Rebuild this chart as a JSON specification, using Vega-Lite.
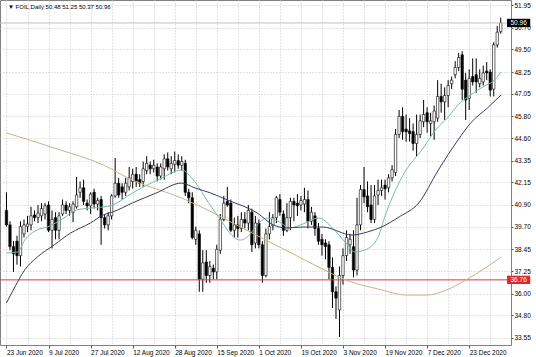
{
"$schema": "https://vega.github.io/schema/vega-lite/v6.json",
"width": 511, "height": 345,
"autosize": {"type": "none"},
"padding": {"left": 0, "top": 0, "right": 25, "bottom": 12},
"background": "#ffffff",
"config": {"view": {"stroke": "#808080", "strokeWidth": 1}, "font": "Liberation Sans"},
"resolve": {"axis": {"x": "independent", "y": "independent"}},
"datasets": {
"candles": [
{"i":0,"o":40.6,"h":41.6,"l":39.7,"c":39.8},
{"i":1,"o":39.8,"h":40.0,"l":38.4,"c":38.6},
{"i":2,"o":38.6,"h":38.9,"l":37.2,"c":38.2},
{"i":3,"o":38.9,"h":39.2,"l":37.6,"c":38.1},
{"i":4,"o":38.1,"h":40.0,"l":37.5,"c":39.7},
{"i":5,"o":39.3,"h":40.1,"l":39.1,"c":39.8},
{"i":6,"o":39.7,"h":40.3,"l":39.4,"c":39.85},
{"i":7,"o":39.8,"h":40.8,"l":39.5,"c":40.3},
{"i":8,"o":40.35,"h":40.6,"l":40.0,"c":40.2},
{"i":9,"o":40.2,"h":40.9,"l":39.9,"c":40.45},
{"i":10,"o":40.3,"h":41.0,"l":40.0,"c":40.7},
{"i":11,"o":40.4,"h":41.0,"l":40.1,"c":40.85},
{"i":12,"o":40.9,"h":41.1,"l":39.4,"c":39.5},
{"i":13,"o":39.5,"h":40.6,"l":38.5,"c":40.1},
{"i":14,"o":40.2,"h":40.5,"l":39.0,"c":39.5},
{"i":15,"o":39.5,"h":40.5,"l":39.0,"c":40.3},
{"i":16,"o":40.4,"h":41.2,"l":40.3,"c":40.9},
{"i":17,"o":40.9,"h":41.1,"l":40.4,"c":40.6},
{"i":18,"o":40.6,"h":41.0,"l":40.3,"c":40.8},
{"i":19,"o":40.5,"h":41.1,"l":39.95,"c":40.95},
{"i":20,"o":40.8,"h":42.45,"l":40.7,"c":41.45},
{"i":21,"o":41.6,"h":42.2,"l":41.3,"c":41.85},
{"i":22,"o":41.85,"h":42.3,"l":40.9,"c":41.1},
{"i":23,"o":41.0,"h":41.2,"l":40.6,"c":40.85},
{"i":24,"o":40.85,"h":41.6,"l":40.4,"c":41.5},
{"i":25,"o":41.6,"h":41.8,"l":40.7,"c":40.95},
{"i":26,"o":40.95,"h":41.3,"l":40.6,"c":41.15},
{"i":27,"o":41.2,"h":41.4,"l":38.7,"c":40.2},
{"i":28,"o":40.2,"h":40.4,"l":39.6,"c":39.8},
{"i":29,"o":39.8,"h":40.5,"l":39.5,"c":40.3},
{"i":30,"o":40.3,"h":41.5,"l":40.1,"c":41.4},
{"i":31,"o":41.4,"h":43.5,"l":41.3,"c":42.1},
{"i":32,"o":42.1,"h":42.4,"l":41.3,"c":41.45},
{"i":33,"o":41.9,"h":42.1,"l":41.2,"c":41.6},
{"i":34,"o":41.6,"h":42.4,"l":41.4,"c":42.1},
{"i":35,"o":41.9,"h":43.0,"l":41.7,"c":42.4},
{"i":36,"o":42.2,"h":42.9,"l":41.8,"c":42.6},
{"i":37,"o":42.6,"h":43.0,"l":41.9,"c":42.2},
{"i":38,"o":42.3,"h":42.6,"l":41.9,"c":42.1},
{"i":39,"o":42.2,"h":43.3,"l":41.9,"c":42.9},
{"i":40,"o":42.8,"h":43.6,"l":42.6,"c":43.2},
{"i":41,"o":43.1,"h":43.3,"l":42.6,"c":42.9},
{"i":42,"o":42.9,"h":43.4,"l":42.7,"c":43.1},
{"i":43,"o":43.0,"h":43.2,"l":42.2,"c":42.5},
{"i":44,"o":42.5,"h":43.2,"l":42.3,"c":43.0},
{"i":45,"o":42.9,"h":43.7,"l":42.3,"c":43.45},
{"i":46,"o":43.45,"h":43.8,"l":42.8,"c":43.0},
{"i":47,"o":42.9,"h":43.6,"l":42.6,"c":43.2},
{"i":48,"o":43.15,"h":43.85,"l":42.7,"c":43.35},
{"i":49,"o":43.35,"h":43.7,"l":42.9,"c":43.1},
{"i":50,"o":43.1,"h":43.6,"l":42.8,"c":43.3},
{"i":51,"o":43.2,"h":43.4,"l":41.4,"c":41.6},
{"i":52,"o":41.6,"h":41.8,"l":41.0,"c":41.3},
{"i":53,"o":41.3,"h":41.6,"l":39.0,"c":39.1},
{"i":54,"o":39.0,"h":39.7,"l":38.7,"c":39.5},
{"i":55,"o":39.3,"h":39.5,"l":36.1,"c":36.8},
{"i":56,"o":36.8,"h":38.4,"l":36.1,"c":37.7},
{"i":57,"o":37.75,"h":38.4,"l":36.6,"c":37.0},
{"i":58,"o":37.0,"h":37.8,"l":36.6,"c":37.5},
{"i":59,"o":37.4,"h":37.6,"l":36.8,"c":37.2},
{"i":60,"o":37.2,"h":38.7,"l":36.8,"c":38.45},
{"i":61,"o":38.4,"h":40.4,"l":38.2,"c":40.1},
{"i":62,"o":40.1,"h":41.4,"l":40.0,"c":41.0},
{"i":63,"o":41.1,"h":41.9,"l":40.8,"c":40.9},
{"i":64,"o":41.0,"h":41.2,"l":39.4,"c":39.5},
{"i":65,"o":39.5,"h":40.2,"l":39.1,"c":39.8},
{"i":66,"o":39.8,"h":40.3,"l":39.1,"c":39.6},
{"i":67,"o":39.6,"h":40.5,"l":39.4,"c":40.1},
{"i":68,"o":40.1,"h":40.5,"l":39.6,"c":39.9},
{"i":69,"o":39.9,"h":40.9,"l":39.5,"c":40.6},
{"i":70,"o":40.5,"h":40.7,"l":38.3,"c":38.7},
{"i":71,"o":38.8,"h":40.3,"l":38.5,"c":39.9},
{"i":72,"o":39.9,"h":40.1,"l":38.5,"c":38.7},
{"i":73,"o":38.7,"h":38.9,"l":36.6,"c":37.0},
{"i":74,"o":37.0,"h":39.6,"l":36.9,"c":39.3},
{"i":75,"o":39.3,"h":40.5,"l":39.0,"c":39.7},
{"i":76,"o":39.75,"h":40.4,"l":39.5,"c":40.2},
{"i":77,"o":40.2,"h":41.4,"l":39.9,"c":41.3},
{"i":78,"o":41.2,"h":41.5,"l":40.3,"c":40.5},
{"i":79,"o":40.4,"h":40.6,"l":39.2,"c":39.5},
{"i":80,"o":39.5,"h":41.0,"l":39.4,"c":40.2},
{"i":81,"o":40.2,"h":41.3,"l":39.5,"c":41.1},
{"i":82,"o":41.1,"h":41.3,"l":40.0,"c":40.9},
{"i":83,"o":41.0,"h":41.5,"l":40.3,"c":40.85},
{"i":84,"o":40.9,"h":41.4,"l":40.6,"c":41.15},
{"i":85,"o":40.95,"h":41.85,"l":40.5,"c":41.2},
{"i":86,"o":41.2,"h":41.7,"l":39.6,"c":40.0},
{"i":87,"o":40.0,"h":40.8,"l":39.8,"c":40.5},
{"i":88,"o":40.3,"h":40.5,"l":39.2,"c":39.6},
{"i":89,"o":39.6,"h":39.9,"l":38.7,"c":38.9},
{"i":90,"o":39.0,"h":39.3,"l":38.1,"c":38.7},
{"i":91,"o":38.8,"h":39.0,"l":37.9,"c":38.6},
{"i":92,"o":38.7,"h":38.9,"l":36.8,"c":37.45},
{"i":93,"o":37.45,"h":38.0,"l":35.2,"c":36.1},
{"i":94,"o":36.1,"h":36.4,"l":34.6,"c":35.75},
{"i":95,"o":35.1,"h":37.5,"l":33.6,"c":37.0},
{"i":96,"o":37.0,"h":38.5,"l":36.5,"c":38.1},
{"i":97,"o":38.1,"h":39.5,"l":37.8,"c":39.1},
{"i":98,"o":38.7,"h":39.3,"l":38.2,"c":39.0},
{"i":99,"o":38.6,"h":39.5,"l":36.9,"c":37.3},
{"i":100,"o":37.3,"h":41.3,"l":37.0,"c":39.8},
{"i":101,"o":39.8,"h":42.0,"l":39.5,"c":41.75},
{"i":102,"o":41.75,"h":43.0,"l":41.0,"c":41.35},
{"i":103,"o":41.4,"h":42.2,"l":40.5,"c":40.8},
{"i":104,"o":40.9,"h":42.0,"l":39.9,"c":40.1},
{"i":105,"o":40.1,"h":42.0,"l":39.9,"c":41.4},
{"i":106,"o":41.45,"h":42.3,"l":40.9,"c":41.7},
{"i":107,"o":41.7,"h":42.3,"l":41.4,"c":41.85},
{"i":108,"o":42.0,"h":42.3,"l":41.2,"c":41.8},
{"i":109,"o":41.85,"h":42.6,"l":41.6,"c":42.4},
{"i":110,"o":42.4,"h":43.1,"l":42.2,"c":42.85},
{"i":111,"o":42.7,"h":45.1,"l":42.5,"c":44.8},
{"i":112,"o":44.8,"h":46.15,"l":44.6,"c":45.8},
{"i":113,"o":45.8,"h":46.3,"l":44.5,"c":44.95},
{"i":114,"o":45.1,"h":45.9,"l":44.4,"c":44.95},
{"i":115,"o":45.0,"h":45.7,"l":44.4,"c":44.85},
{"i":116,"o":44.95,"h":45.4,"l":43.9,"c":44.3},
{"i":117,"o":44.3,"h":45.9,"l":43.6,"c":44.8},
{"i":118,"o":44.8,"h":45.9,"l":44.6,"c":45.55},
{"i":119,"o":45.5,"h":46.7,"l":45.2,"c":45.9},
{"i":120,"o":46.0,"h":46.3,"l":44.9,"c":45.5},
{"i":121,"o":45.4,"h":46.0,"l":44.7,"c":45.55},
{"i":122,"o":45.5,"h":46.4,"l":44.5,"c":46.1},
{"i":123,"o":45.7,"h":47.8,"l":45.5,"c":46.9},
{"i":124,"o":46.9,"h":47.6,"l":46.0,"c":46.6},
{"i":125,"o":46.6,"h":47.4,"l":45.6,"c":46.95},
{"i":126,"o":46.95,"h":47.8,"l":46.3,"c":47.5},
{"i":127,"o":47.6,"h":48.0,"l":47.3,"c":47.8},
{"i":128,"o":48.1,"h":48.85,"l":47.9,"c":48.5},
{"i":129,"o":48.5,"h":49.3,"l":48.3,"c":49.05},
{"i":130,"o":49.2,"h":49.4,"l":46.7,"c":47.3},
{"i":131,"o":47.8,"h":48.2,"l":45.6,"c":46.7},
{"i":132,"o":46.8,"h":48.4,"l":46.15,"c":47.9},
{"i":133,"o":48.0,"h":49.0,"l":47.5,"c":47.7},
{"i":134,"o":48.1,"h":49.0,"l":47.1,"c":47.7},
{"i":135,"o":47.6,"h":48.4,"l":47.4,"c":47.9},
{"i":136,"o":47.7,"h":48.6,"l":47.5,"c":48.2},
{"i":137,"o":48.3,"h":48.8,"l":47.8,"c":48.2},
{"i":138,"o":48.25,"h":48.4,"l":46.9,"c":47.25},
{"i":139,"o":47.3,"h":49.9,"l":46.9,"c":49.75},
{"i":140,"o":49.75,"h":50.8,"l":49.6,"c":50.45},
{"i":141,"o":50.48,"h":51.25,"l":50.37,"c":50.96}
],
"maFast": [
{"i":0,"v":38.25},{"i":3.2,"v":38.3},{"i":5.2,"v":38.96},{"i":8.8,"v":39.52},{"i":11.6,"v":39.68},{"i":15.5,"v":40.07},{"i":20,"v":40.62},{"i":23.9,"v":40.73},{"i":27.6,"v":40.79},{"i":30.3,"v":40.9},{"i":35.9,"v":41.56},{"i":40.1,"v":42.0},{"i":44.3,"v":42.39},{"i":49.9,"v":42.83},{"i":53.8,"v":42.17},{"i":57.5,"v":41.06},{"i":61.1,"v":40.07},{"i":63.9,"v":39.3},{"i":66.7,"v":38.96},{"i":69,"v":39.18},{"i":71.5,"v":39.79},{"i":74.3,"v":40.18},{"i":77.9,"v":39.96},{"i":80.7,"v":39.63},{"i":84.6,"v":39.85},{"i":89.1,"v":40.18},{"i":93,"v":39.63},{"i":96.6,"v":38.85},{"i":99.4,"v":38.3},{"i":102.2,"v":38.41},{"i":105.9,"v":39.07},{"i":107.8,"v":40.18},{"i":110.1,"v":41.34},{"i":114,"v":42.83},{"i":118.5,"v":43.94},{"i":122.4,"v":45.04},{"i":126,"v":45.76},{"i":128.8,"v":46.43},{"i":132.4,"v":46.98},{"i":136.4,"v":47.48},{"i":138.6,"v":47.7},{"i":141.1,"v":48.25}
],
"maMid": [
{"i":0,"v":35.48},{"i":2.4,"v":36.37},{"i":5.2,"v":37.31},{"i":8.8,"v":38.02},{"i":13.6,"v":38.69},{"i":18.3,"v":39.35},{"i":23.9,"v":39.9},{"i":27.6,"v":40.35},{"i":30.3,"v":40.51},{"i":35.9,"v":41.01},{"i":42.7,"v":41.56},{"i":49.9,"v":42.11},{"i":53.8,"v":41.84},{"i":58.3,"v":41.56},{"i":63.1,"v":41.17},{"i":71.5,"v":40.46},{"i":76.2,"v":39.79},{"i":79.9,"v":39.63},{"i":84.6,"v":39.68},{"i":90.2,"v":39.68},{"i":98.6,"v":39.24},{"i":103,"v":39.41},{"i":107,"v":39.68},{"i":112,"v":40.24},{"i":117.6,"v":41.01},{"i":123.2,"v":42.83},{"i":128.8,"v":44.49},{"i":132.4,"v":45.43},{"i":137.2,"v":46.26},{"i":141.1,"v":46.98}
],
"maSlow": [
{"i":0,"v":44.88},{"i":13.6,"v":44.05},{"i":27.6,"v":43.11},{"i":35.9,"v":42.28},{"i":49.9,"v":41.29},{"i":69.5,"v":39.41},{"i":83.5,"v":38.02},{"i":91.9,"v":37.19},{"i":97.5,"v":36.7},{"i":105.9,"v":36.26},{"i":114.3,"v":35.92},{"i":119.9,"v":35.92},{"i":125.5,"v":36.2},{"i":131,"v":36.75},{"i":136.6,"v":37.42},{"i":141.1,"v":38.02}
],
"priceMarks": [
{"p":50.96,"t":"50.96","kind":"bid"},
{"p":36.76,"t":"36.76","kind":"alert"}
],
"header": [
{"t":"▼ FOIL,Daily  50.48 51.25 50.37 50.96"}
]
},
"layer": [
{
"data": {"name": "candles"},
"mark": {"type": "rule", "color": "#000000", "strokeWidth": 1},
"encoding": {
"x": {"field": "i", "type": "quantitative", "scale": {"domain": [-0.42, 142.5], "nice": false, "zero": false},
 "axis": {"orient": "bottom", "values": [0,6,12,18,24,30,36,42,48,54,60,66,72,78,84,90,96,102,108,114,120,126,132,138],
  "labelExpr": "datum.value % 12 == 0 ? ['23 Jun 2020','9 Jul 2020','27 Jul 2020','12 Aug 2020','28 Aug 2020','15 Sep 2020','1 Oct 2020','19 Oct 2020','3 Nov 2020','19 Nov 2020','7 Dec 2020','23 Dec 2020'][datum.value / 12] : ''",
  "labelAlign": "left", "labelFontSize": 6.5, "labelColor": "#000000", "labelPadding": 1,
  "tickSize": 3, "tickColor": "#555555", "tickOpacity": {"condition": {"test": "datum.value % 12 == 0", "value": 1}, "value": 0},
  "grid": true, "gridColor": "#c8c8c8", "gridDash": [1, 2], "domain": false, "title": null,
  "labelOverlap": false, "labelFlush": false, "labelBound": false}},
"y": {"field": "l", "type": "quantitative", "scale": {"domain": [33.16, 52.23], "nice": false, "zero": false},
 "axis": {"orient": "right", "values": [33.55,34.8,36.0,37.25,38.45,39.7,40.9,42.15,43.35,44.6,45.8,47.05,48.25,49.5,50.7,51.95],
  "format": ".2f", "labelFontSize": 6.5, "labelColor": "#000000", "labelPadding": 1, "tickSize": 2, "tickColor": "#555555",
  "grid": true, "gridColor": "#c8c8c8", "gridDash": [1, 2], "domain": false, "title": null, "labelOverlap": false, "labelBound": false}},
"y2": {"field": "h"}
}
},
{
"data": {"name": "candles"},
"mark": {"type": "bar", "size": 2.4, "stroke": "#000000", "strokeWidth": 0.6},
"encoding": {
"x": {"field": "i", "type": "quantitative", "axis": null},
"y": {"field": "o", "type": "quantitative", "axis": null},
"y2": {"field": "c"},
"fill": {"condition": {"test": "datum.c >= datum.o", "value": "#ffffff"}, "value": "#000000"}
}
},
{
"data": {"name": "priceMarks"},
"transform": [{"filter": "datum.kind == 'alert'"}],
"mark": {"type": "rule", "color": "#d23c3c", "strokeWidth": 1},
"encoding": {"y": {"field": "p", "type": "quantitative", "axis": null}}
},
{
"data": {"name": "priceMarks"},
"transform": [{"filter": "datum.kind == 'bid'"}],
"mark": {"type": "rule", "color": "#c0c0c0", "strokeWidth": 1},
"encoding": {"y": {"field": "p", "type": "quantitative", "axis": null}}
},
{
"data": {"name": "maSlow"},
"mark": {"type": "line", "color": "#cdb08c", "strokeWidth": 1, "interpolate": "monotone"},
"encoding": {"x": {"field": "i", "type": "quantitative", "axis": null}, "y": {"field": "v", "type": "quantitative", "axis": null}}
},
{
"data": {"name": "maFast"},
"mark": {"type": "line", "color": "#80b8ac", "strokeWidth": 1, "interpolate": "monotone"},
"encoding": {"x": {"field": "i", "type": "quantitative", "axis": null}, "y": {"field": "v", "type": "quantitative", "axis": null}}
},
{
"data": {"name": "maMid"},
"mark": {"type": "line", "color": "#3a3a68", "strokeWidth": 1, "interpolate": "monotone"},
"encoding": {"x": {"field": "i", "type": "quantitative", "axis": null}, "y": {"field": "v", "type": "quantitative", "axis": null}}
},
{
"data": {"name": "priceMarks"},
"mark": {"type": "point", "shape": "M-1,-0.36L1,-0.36L1,0.36L-1,0.36Z", "filled": true, "size": 540, "opacity": 1, "strokeWidth": 0},
"encoding": {
"x": {"datum": 146.1, "type": "quantitative", "axis": null},
"y": {"field": "p", "type": "quantitative", "axis": null},
"fill": {"field": "kind", "type": "nominal", "scale": {"domain": ["bid", "alert"], "range": ["#000000", "#d92b2b"]}, "legend": null}
}
},
{
"data": {"name": "priceMarks"},
"mark": {"type": "text", "fontSize": 6.5, "color": "#ffffff", "align": "center", "baseline": "middle"},
"encoding": {
"x": {"datum": 146.1, "type": "quantitative", "axis": null},
"y": {"field": "p", "type": "quantitative", "axis": null},
"text": {"field": "t"}
}
},
{
"data": {"name": "header"},
"mark": {"type": "text", "fontSize": 6, "color": "#000000", "align": "left", "baseline": "middle"},
"encoding": {
"x": {"datum": 0.42, "type": "quantitative", "axis": null},
"y": {"datum": 51.84, "type": "quantitative", "axis": null},
"text": {"field": "t"}
}
}
]
}
